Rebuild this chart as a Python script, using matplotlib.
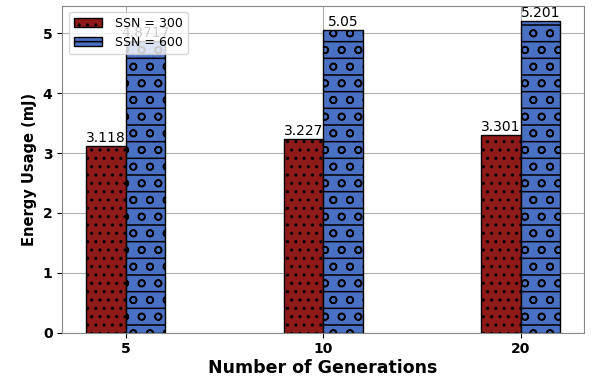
import numpy as np
import matplotlib
matplotlib.use('Agg')
import matplotlib.pyplot as plt

#------------------------------------------------------------------------------------
generations = ['5', '10', '20']
ssn300 = [3.118, 3.227, 3.301]
ssn600 = [4.8717, 5.05, 5.201]
labels300 = ['3.118', '3.227', '3.301']
labels600 = ['4.8717', '5.05', '5.201']
#------------------------------------------------------------------------------------
plt.rcParams['hatch.linewidth'] = 1.1
fig, ax = plt.subplots(figsize=(5.93, 3.76), dpi=100)
x = np.arange(len(generations))
w = 0.2
b1 = ax.bar(x - w/2, ssn300, w, color='#8f1a1a', edgecolor='black', hatch='..', label='SSN = 300', zorder=2)
b2 = ax.bar(x + w/2, ssn600, w, color='#4a70c4', edgecolor='black', hatch='o-', label='SSN = 600', zorder=2)
ax.bar_label(b1, labels=labels300, fontsize=10, padding=1)
ax.bar_label(b2, labels=labels600, fontsize=10, padding=1)

ax.set_xticks(x)
ax.set_xticklabels(generations, fontweight='bold')
for t in ax.get_yticklabels():
  t.set_fontweight('bold')
ax.tick_params(labelsize=10)
ax.set_xlabel('Number of Generations', fontsize=12.5, fontweight='bold', labelpad=2)
ax.set_ylabel('Energy Usage (mJ)', fontsize=10.5, fontweight='bold')
ax.grid(True, color='#b0b0b0', linewidth=0.8, zorder=0)
ax.set_axisbelow(True)
for s in ax.spines.values():
  s.set_color('#888888')
ax.legend(loc='upper left', fontsize=9, framealpha=0.8, handlelength=2.3, handletextpad=1.0)
fig.subplots_adjust(left=0.105, right=0.985, top=0.985, bottom=0.115)
fig.savefig('out.png')
